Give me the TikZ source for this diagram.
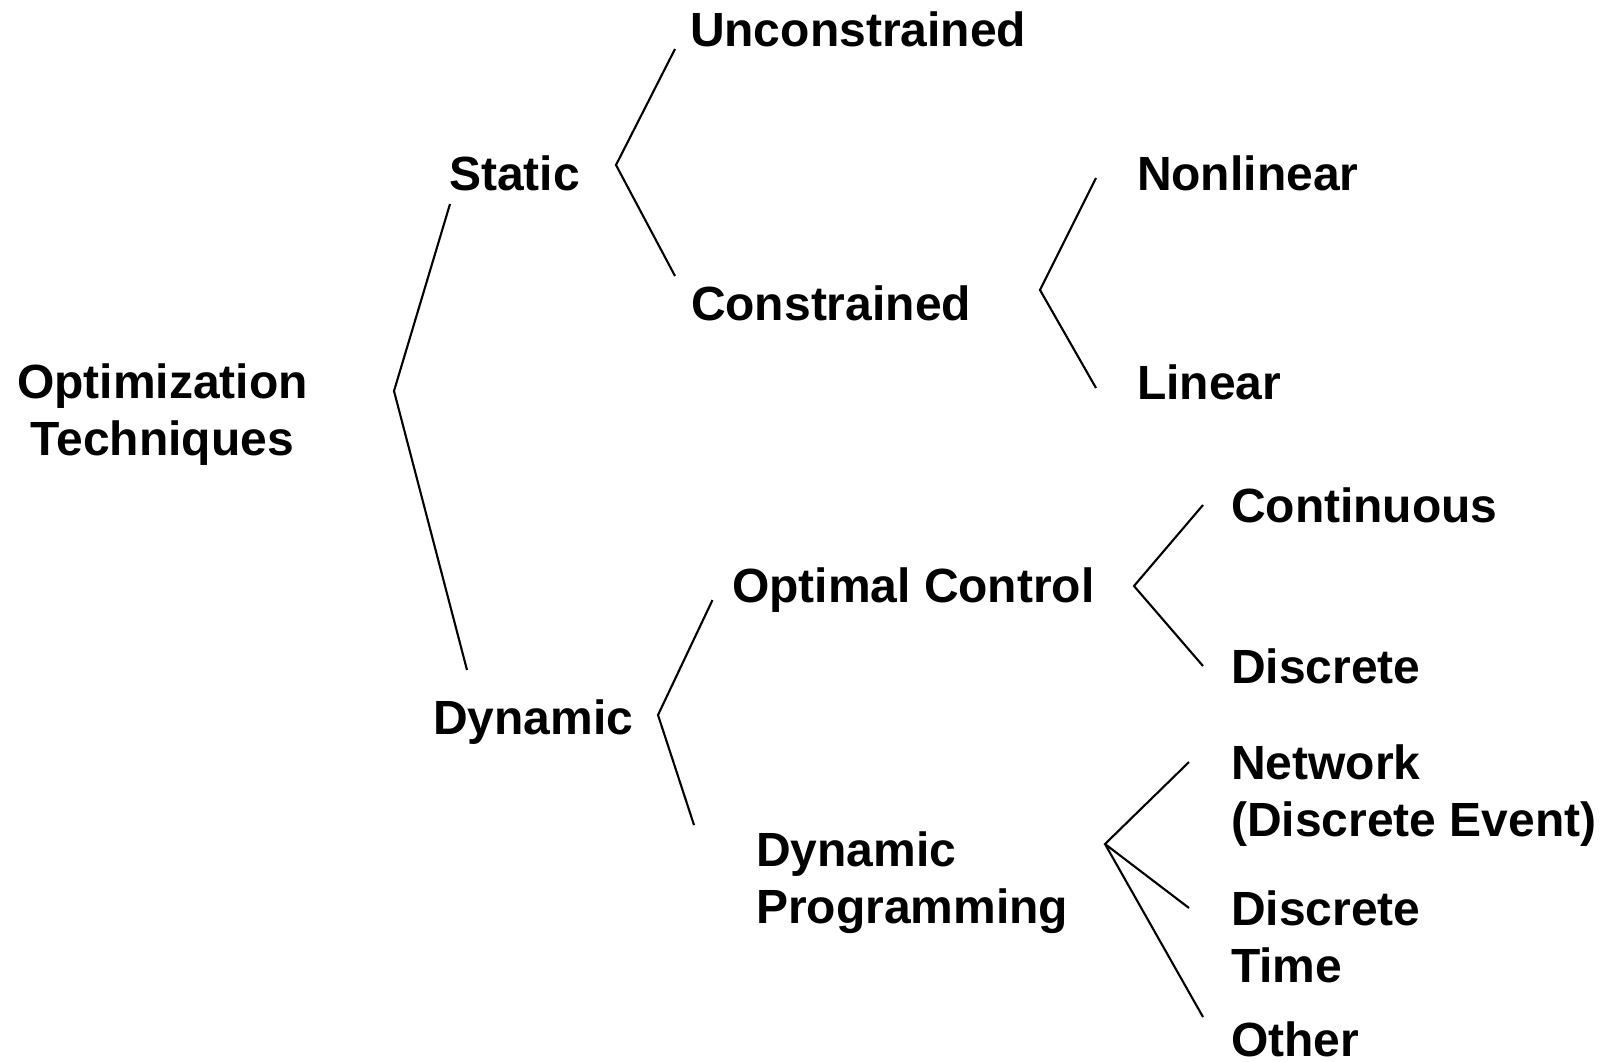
\documentclass[tikz,border=0pt]{standalone}
\usepackage{fontspec}
\setmainfont{Liberation Sans}
\newcommand\twoc[2]{\vtop{\baselineskip=57pt\tabskip=0pt\halign{\hfil##\hfil\cr#1\cr#2\cr}}}
\newcommand\twol[2]{\vtop{\baselineskip=57pt\hbox{#1}\hbox{#2}}}
\begin{document}
\begin{tikzpicture}[x=1pt,y=-1pt,
  lbl/.style={anchor=base west,inner sep=0pt,outer sep=0pt,font=\fontsize{48}{57}\selectfont\bfseries},
  conn/.style={draw=black,line width=2.1pt,line join=miter}]
\useasboundingbox[fill=white] (0,0) rectangle (1603,1061);
% labels
\node[lbl] (opt) at (17,398) {\twoc{Optimization}{Techniques}};
\node[lbl] (static) at (449,190) {Static};
\node[lbl] (dyn) at (433,734) {Dynamic};
\node[lbl] (uncon) at (690,46) {Unconstrained};
\node[lbl] (con) at (691,320) {Constrained};
\node[lbl] (nonlin) at (1137,190) {Nonlinear};
\node[lbl] (lin) at (1137,399) {Linear};
\node[lbl] (oc) at (732,602) {Optimal Control};
\node[lbl] (dp) at (756,866) {\twol{Dynamic}{Programming}};
\node[lbl] (cont) at (1231,522) {Continuous};
\node[lbl] (disc) at (1231,683) {Discrete};
\node[lbl] (net) at (1231,779) {\twol{Network}{(Discrete Event)}};
\node[lbl] (dt) at (1231,925) {\twol{Discrete}{Time}};
\node[lbl] (other) at (1231,1056) {Other};
% connector points
\coordinate (rootT) at (450,204);
\coordinate (rootJ) at (394,391);
\coordinate (rootB) at (467,670);
\coordinate (stT) at (675,49);
\coordinate (stJ) at (616,165);
\coordinate (stB) at (675,276);
\coordinate (coT) at (1096,178);
\coordinate (coJ) at (1040,290);
\coordinate (coB) at (1096,388);
\coordinate (dyT) at (712.5,600);
\coordinate (dyJ) at (658,715);
\coordinate (dyB) at (694,825);
\coordinate (ocT) at (1203,505);
\coordinate (ocJ) at (1134,586);
\coordinate (ocB) at (1203,666);
\coordinate (dpJ) at (1105,844);
\coordinate (dpN) at (1189,762);
\coordinate (dpD) at (1189,908);
\coordinate (dpO) at (1203,1017);
% connectors
\draw[conn] (rootT) -- (rootJ) -- (rootB);
\draw[conn] (stT) -- (stJ) -- (stB);
\draw[conn] (coT) -- (coJ) -- (coB);
\draw[conn] (dyT) -- (dyJ) -- (dyB);
\draw[conn] (ocT) -- (ocJ) -- (ocB);
\draw[conn] (dpN) -- (dpJ) -- (dpD);
\draw[conn] (dpJ) -- (dpO);
\end{tikzpicture}
\end{document}
